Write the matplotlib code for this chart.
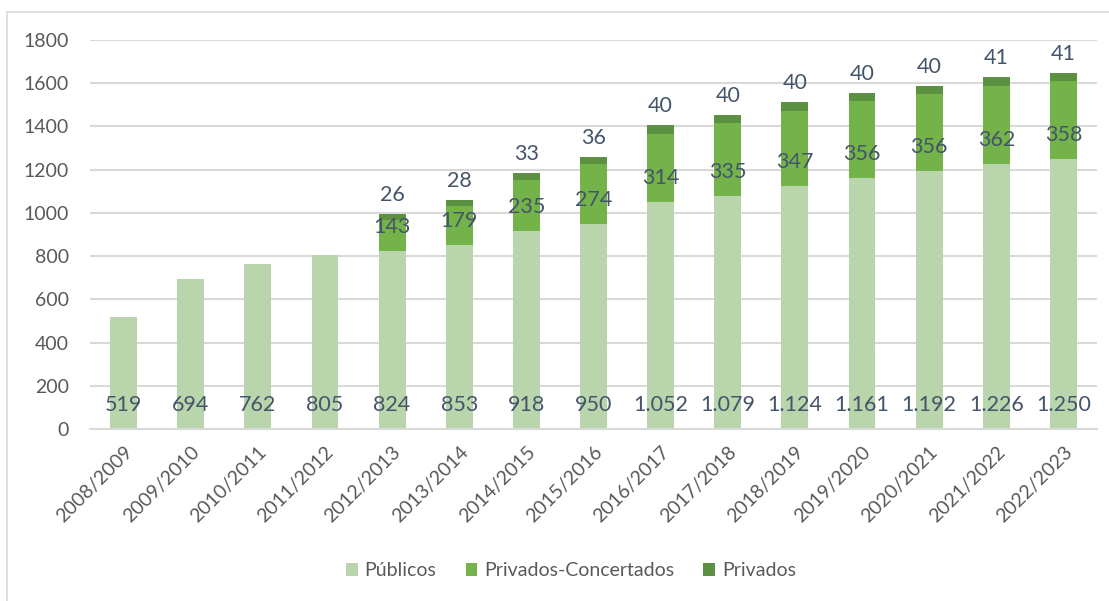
import matplotlib
matplotlib.use("Agg")
import matplotlib.pyplot as plt
from matplotlib.patches import Rectangle
import numpy as np

categories = ["2008/2009", "2009/2010", "2010/2011", "2011/2012", "2012/2013",
              "2013/2014", "2014/2015", "2015/2016", "2016/2017", "2017/2018",
              "2018/2019", "2019/2020", "2020/2021", "2021/2022", "2022/2023"]
publicos = [519, 694, 762, 805, 824, 853, 918, 950, 1052, 1079, 1124, 1161, 1192, 1226, 1250]
concertados = [0, 0, 0, 0, 143, 179, 235, 274, 314, 335, 347, 356, 356, 362, 358]
privados = [0, 0, 0, 0, 26, 28, 33, 36, 40, 40, 40, 40, 40, 41, 41]
yticks = [0, 200, 400, 600, 800, 1000, 1200, 1400, 1600, 1800]

c_pub = "#b9d5ab"
c_con = "#74b24a"
c_pri = "#5b9140"
lab_col = "#44546a"
tick_col = "#595959"

plt.rcParams['font.family'] = ['Lato', 'DejaVu Sans']

fig = plt.figure(figsize=(11.09, 6.01), dpi=100)
fig.patches.append(Rectangle((7/1109, -0.1), 1.2, 1 - 12/601 + 0.1, transform=fig.transFigure,
                             fill=False, edgecolor="#d9d9d9", linewidth=1.2))
ax = fig.add_axes([90/1109, 1 - 429/601, (1097 - 90)/1109, (429 - 40)/601])

x = np.arange(len(categories))
w = 0.4
pub = np.array(publicos)
con = np.array(concertados)
pri = np.array(privados)

ax.bar(x, pub, w, color=c_pub, label="Públicos", zorder=2)
ax.bar(x, con, w, bottom=pub, color=c_con, label="Privados-Concertados", zorder=2)
ax.bar(x, pri, w, bottom=pub + con, color=c_pri, label="Privados", zorder=2)

def fmt(v):
    return f"{v:,}".replace(",", ".")

vfs = 15.5
for i in range(len(x)):
    ax.annotate(fmt(pub[i]), (x[i], 0), xytext=(0, 24 * 0.72), textcoords="offset points",
                ha="center", va="center", fontsize=vfs, color=lab_col, zorder=3)
    if con[i] > 0:
        ax.annotate(fmt(con[i]), (x[i], pub[i]), xytext=(0, 24 * 0.72), textcoords="offset points",
                    ha="center", va="center", fontsize=vfs, color=lab_col, zorder=3)
    if pri[i] > 0:
        ax.annotate(fmt(pri[i]), (x[i], pub[i] + con[i] + pri[i]), xytext=(0, 19 * 0.72),
                    textcoords="offset points",
                    ha="center", va="center", fontsize=vfs, color=lab_col, zorder=3)

ax.set_xlim(-0.5, len(x) - 0.5)
ax.set_ylim(0, 1800)
ax.set_yticks(yticks)
ax.set_yticklabels([str(v) for v in yticks], fontsize=14, color=tick_col)
ax.set_xticks(x)
ax.set_xticklabels(categories, rotation=45, ha="right", rotation_mode="anchor",
                   fontsize=14, color=tick_col)
ax.tick_params(axis="both", length=0)
ax.tick_params(axis="y", pad=15)
ax.tick_params(axis="x", pad=10)
ax.grid(axis="y", color="#d9d9d9", linewidth=1.5, zorder=0)
for s in ["top", "right", "left"]:
    ax.spines[s].set_visible(False)
ax.spines["bottom"].set_color("#d9d9d9")
ax.spines["bottom"].set_linewidth(1.5)

leg = fig.legend(loc="center", bbox_to_anchor=(571/1109, 1 - 571/601), ncol=3, frameon=False,
                 fontsize=14, handlelength=0.6, handleheight=0.6, handletextpad=0.35,
                 columnspacing=1.5)
for t in leg.get_texts():
    t.set_color(tick_col)

fig.savefig("out.png", dpi=100)
